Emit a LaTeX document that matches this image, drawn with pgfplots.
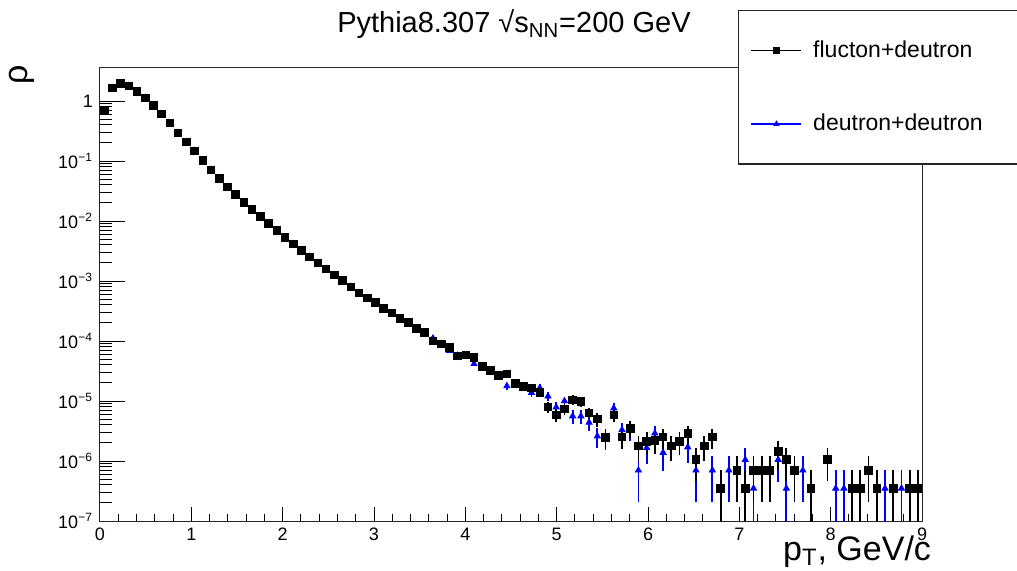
\documentclass[border=0pt]{standalone}
\usepackage{fontspec}
\setmainfont{Liberation Sans}
\usepackage{pgfplots}
\usepackage{pgfplotstable}
\pgfplotsset{compat=1.18}

% black: flucton+deutron   (x, y, error up, error down)
\pgfplotstableread{
x y ep em
0.045 0.69 0 0
0.135 1.65 0 0
0.225 1.95 0 0
0.315 1.80 0 0
0.405 1.45 0 0
0.495 1.135 0 0
0.585 0.847 0 0
0.675 0.607 0 0
0.765 0.43 0 0
0.855 0.295 0 0
0.945 0.2075 0 0
1.035 0.147 0 0
1.125 0.102 0 0
1.215 0.0716 0 0
1.305 0.0513 0 0
1.395 0.0372 0 0
1.485 0.0279 0 0
1.575 0.0204 0 0
1.665 0.01567 0 0
1.755 0.0120 0 0
1.845 0.00912 0 0
1.935 0.0070 0 0
2.025 0.00537 0 0
2.115 0.00417 0 0
2.205 0.00324 0 0
2.295 0.00254 0 0
2.385 0.00202 0 0
2.475 0.00160 0 0
2.565 0.00126 0 0
2.655 0.00102 0 0
2.745 8.04e-4 0 0
2.835 6.38e-4 0 0
2.925 5.25e-4 0 0
3.015 4.37e-4 0 0
3.105 3.47e-4 0 0
3.195 2.95e-4 0 0
3.285 2.40e-4 0 0
3.375 2.04e-4 0 0
3.465 1.62e-4 0 0
3.555 1.38e-4 0 0
3.645 1.01e-4 0 0
3.735 8.91e-5 0 0
3.825 7.85e-5 0 0
3.915 5.69e-5 0 0
4.005 5.85e-5 0 0
4.095 5.37e-5 0 0
4.185 3.80e-5 3.65e-6 3.65e-6
4.275 3.24e-5 3.37e-6 3.37e-6
4.365 2.69e-5 3.07e-6 3.07e-6
4.455 2.82e-5 3.14e-6 3.14e-6
4.545 1.97e-5 2.63e-6 2.63e-6
4.635 1.74e-5 2.47e-6 2.47e-6
4.725 1.66e-5 2.41e-6 2.41e-6
4.815 1.38e-5 2.20e-6 2.20e-6
4.905 8.0e-6 1.67e-6 1.67e-6
4.995 5.9e-6 1.44e-6 1.44e-6
5.085 7.4e-6 1.61e-6 1.61e-6
5.175 1.05e-5 1.92e-6 1.92e-6
5.265 9.8e-6 1.85e-6 1.85e-6
5.355 6.3e-6 1.48e-6 1.48e-6
5.445 5.0e-6 1.32e-6 1.32e-6
5.535 2.45e-6 9.3e-7 9.3e-7
5.625 5.9e-6 1.44e-6 1.44e-6
5.715 2.54e-6 9.4e-7 9.4e-7
5.805 3.5e-6 1.11e-6 1.11e-6
5.895 1.8e-6 7.9e-7 7.9e-7
5.985 2.14e-6 8.7e-7 8.7e-7
6.075 2.19e-6 8.8e-7 8.8e-7
6.165 2.54e-6 9.4e-7 9.4e-7
6.255 1.78e-6 7.9e-7 7.9e-7
6.345 2.14e-6 8.7e-7 8.7e-7
6.435 2.88e-6 1.0e-6 1.0e-6
6.525 1.07e-6 6.1e-7 6.1e-7
6.615 1.78e-6 7.9e-7 7.9e-7
6.705 2.54e-6 9.4e-7 9.4e-7
6.795 3.5e-7 3.5e-7 3.49e-7
6.975 7.0e-7 4.95e-7 4.95e-7
7.065 3.5e-7 3.5e-7 3.49e-7
7.155 7.0e-7 4.95e-7 4.95e-7
7.245 7.0e-7 4.95e-7 4.95e-7
7.335 7.0e-7 4.95e-7 4.95e-7
7.425 1.43e-6 7.1e-7 7.1e-7
7.515 1.07e-6 6.1e-7 6.1e-7
7.605 7.0e-7 4.95e-7 4.95e-7
7.785 3.5e-7 3.5e-7 3.49e-7
7.965 1.07e-6 6.1e-7 6.1e-7
8.235 3.5e-7 3.5e-7 3.49e-7
8.325 3.5e-7 3.5e-7 3.49e-7
8.415 7.0e-7 4.95e-7 4.95e-7
8.505 3.5e-7 3.5e-7 3.49e-7
8.685 3.5e-7 3.5e-7 3.49e-7
8.865 3.5e-7 3.5e-7 3.49e-7
8.955 3.5e-7 3.5e-7 3.49e-7
}\fluctondata

% blue: deutron+deutron
\pgfplotstableread{
x y ep em
0.045 0.69 0 0
0.135 1.65 0 0
0.225 1.95 0 0
0.315 1.80 0 0
0.405 1.45 0 0
0.495 1.135 0 0
0.585 0.847 0 0
0.675 0.607 0 0
0.765 0.43 0 0
0.855 0.295 0 0
0.945 0.2075 0 0
1.035 0.147 0 0
1.125 0.102 0 0
1.215 0.0716 0 0
1.305 0.0513 0 0
1.395 0.0372 0 0
1.485 0.0279 0 0
1.575 0.0204 0 0
1.665 0.01567 0 0
1.755 0.0120 0 0
1.845 0.00912 0 0
1.935 0.0070 0 0
2.025 0.00537 0 0
2.115 0.00417 0 0
2.205 0.00324 0 0
2.295 0.00254 0 0
2.385 0.00202 0 0
2.475 0.00160 0 0
2.565 0.00126 0 0
2.655 0.00102 0 0
2.745 8.04e-4 0 0
2.835 6.38e-4 0 0
2.925 5.25e-4 0 0
3.015 4.37e-4 0 0
3.105 3.47e-4 0 0
3.195 2.95e-4 0 0
3.285 2.40e-4 0 0
3.375 2.04e-4 0 0
3.465 1.62e-4 0 0
3.555 1.38e-4 0 0
3.645 1.11e-4 0 0
3.735 8.91e-5 0 0
3.825 6.92e-5 0 0
3.915 5.69e-5 0 0
4.005 5.85e-5 0 0
4.095 4.17e-5 0 0
4.185 3.80e-5 3.65e-6 3.65e-6
4.275 3.24e-5 3.37e-6 3.37e-6
4.365 2.69e-5 3.07e-6 3.07e-6
4.455 1.78e-5 2.5e-6 2.5e-6
4.545 1.97e-5 2.63e-6 2.63e-6
4.635 1.74e-5 2.47e-6 2.47e-6
4.725 1.38e-5 2.2e-6 2.2e-6
4.815 1.66e-5 2.41e-6 2.41e-6
4.905 1.2e-5 2.05e-6 2.05e-6
4.995 7.9e-6 1.66e-6 1.66e-6
5.085 1.0e-5 1.87e-6 1.87e-6
5.175 5.6e-6 1.4e-6 1.4e-6
5.265 5.6e-6 1.4e-6 1.4e-6
5.355 4.4e-6 1.24e-6 1.24e-6
5.445 2.6e-6 9.5e-7 9.5e-7
5.535 2.5e-6 9.4e-7 9.4e-7
5.625 7.6e-6 1.63e-6 1.63e-6
5.715 3.3e-6 1.07e-6 1.07e-6
5.805 3.2e-6 1.06e-6 1.06e-6
5.895 7.0e-7 4.95e-7 4.95e-7
5.985 1.66e-6 7.6e-7 7.6e-7
6.075 2.9e-6 1.0e-6 1.0e-6
6.165 1.38e-6 7.0e-7 7.0e-7
6.255 1.78e-6 7.9e-7 7.9e-7
6.345 2.14e-6 8.7e-7 8.7e-7
6.435 1.7e-6 7.7e-7 7.7e-7
6.525 7.0e-7 4.95e-7 4.95e-7
6.615 1.78e-6 7.9e-7 7.9e-7
6.705 7.0e-7 4.95e-7 4.95e-7
6.885 7.0e-7 4.95e-7 4.95e-7
7.065 1.05e-6 6.1e-7 6.1e-7
7.155 3.5e-7 3.5e-7 3.49e-7
7.425 1.05e-6 6.1e-7 6.1e-7
7.515 3.5e-7 3.5e-7 3.49e-7
7.695 7.0e-7 4.95e-7 4.95e-7
8.055 3.5e-7 3.5e-7 3.49e-7
8.145 3.5e-7 3.5e-7 3.49e-7
8.595 3.5e-7 3.5e-7 3.49e-7
8.775 3.5e-7 3.5e-7 3.49e-7
}\deutrondata

\begin{document}
\begin{tikzpicture}
% x ticks (short ones) and labels
\begin{axis}[
    at={(0,0)}, anchor=south west,
    scale only axis, width=411pt, height=227pt,
    xmin=0, xmax=9, ymin=0, ymax=1,
    xtick={0,1,2,3,4,5,6,7,8,9},
    xticklabels={0,1,2,3,4,5,6,7,8,9},
    minor x tick num=4,
    ytick=\empty,
    tick align=inside,
    xtick pos=bottom,
    major tick length=6.8pt, minor tick length=3.4pt,
    tick style={black, line width=0.5pt},
    axis line style={draw=none},
    xticklabel style={font=\fontsize{9}{10}\selectfont},
]
\end{axis}
% log y axis with the data
\begin{axis}[
    at={(0,0)}, anchor=south west,
    scale only axis, width=411pt, height=227pt,
    ymode=log,
    xmin=0, xmax=9, ymin=1e-7, ymax=3.69,
    xtick=\empty,
    ytick={1e-7,1e-6,1e-5,1e-4,1e-3,1e-2,1e-1,1},
    yticklabels={10\textsuperscript{−7},10\textsuperscript{−6},10\textsuperscript{−5},10\textsuperscript{−4},10\textsuperscript{−3},10\textsuperscript{−2},10\textsuperscript{−1},1},
    tick align=inside,
    ytick pos=left,
    major tick length=12.3pt, minor tick length=6.2pt,
    tick style={black, line width=0.5pt},
    axis line style={black!85, line width=0.5pt},
    yticklabel style={font=\fontsize{9}{10}\selectfont},
    title={Pythia8.307 √s\textsubscript{NN}=200 GeV},
    title style={at={(axis description cs:0.5036,1.0485)}, anchor=base, font=\fontsize{14.5}{16}\selectfont},
    xlabel={p\textsubscript{T}, GeV/c},
    xlabel style={at={(axis description cs:1.0195,-0.0859)}, anchor=base east, font=\fontsize{17}{19}\selectfont},
    ylabel={ρ},
    ylabel style={at={(axis description cs:-0.0949,0.982)}, anchor=center, font=\fontsize{17}{19}\selectfont},
    legend image code/.code={
        \draw[#1, line width=0.8pt] (0pt,0pt) -- (25pt,0pt);
        \draw[#1, mark size=1.3pt] plot coordinates {(12.5pt,0pt)};
    },
    reverse legend,
    legend style={at={(axis description cs:0.7762,1.1256)}, anchor=north west,
        draw=black!85, line width=0.6pt, fill=white,
        inner xsep=6pt, inner ysep=15pt, row sep=27pt,
        font=\fontsize{11.5}{13}\selectfont,
        nodes={inner sep=0pt},
        /tikz/every odd column/.append style={column sep=5.5pt}},
    legend cell align=left,
]
\addplot[only marks, color=blue, mark=triangle*, mark size=1.75pt,
    error bars/.cd, y dir=both, y explicit, error mark=none,
    error bar style={line width=0.9pt, blue}]
    table[x=x, y=y, y error plus=ep, y error minus=em] {\deutrondata};
\addlegendentry{\makebox[120pt][l]{deutron+deutron}}
\addplot[only marks, color=black, mark=square*, mark size=1.9pt,
    error bars/.cd, y dir=both, y explicit, error mark=none,
    error bar style={line width=0.9pt, black}]
    table[x=x, y=y, y error plus=ep, y error minus=em] {\fluctondata};
\addlegendentry{\makebox[120pt][l]{flucton+deutron}}
\end{axis}
\pgfresetboundingbox
\useasboundingbox (-50pt,-24.5pt) rectangle (458.5pt,260.5pt);
\end{tikzpicture}
\end{document}
